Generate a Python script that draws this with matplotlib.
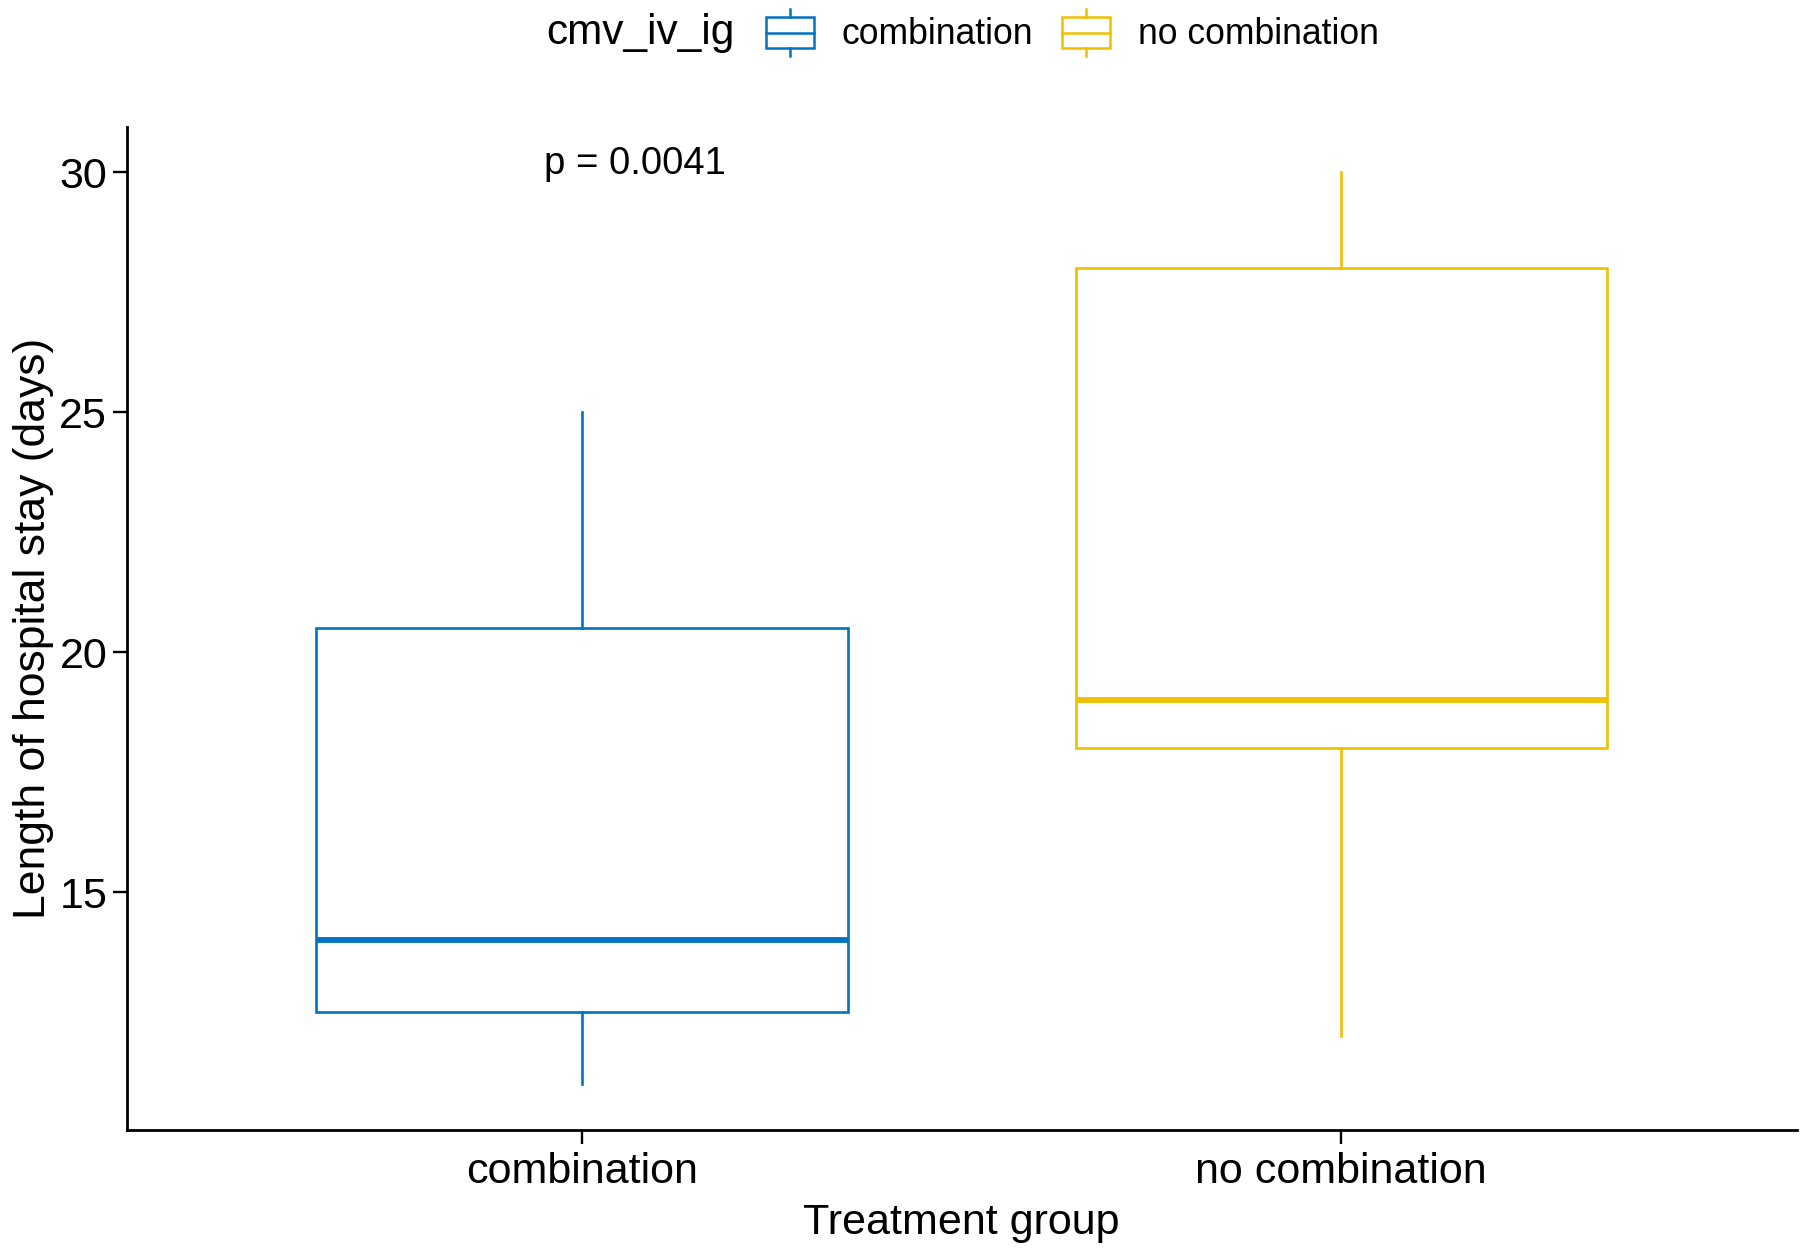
import matplotlib.pyplot as plt
from matplotlib.legend_handler import HandlerBase
from matplotlib.patches import Rectangle
from matplotlib.lines import Line2D

plt.rcParams['font.family'] = ['Liberation Sans', 'DejaVu Sans']

groups = ['combination', 'no combination']
colors = ['#0073C2', '#EFC000']
whislo = [11.0, 12.0]
q1 = [12.5, 18.0]
med = [14.0, 19.0]
q3 = [20.5, 28.0]
whishi = [25.0, 30.0]
p_label = 'p = 0.0041'


class BoxKey(HandlerBase):
    def create_artists(self, legend, orig_handle, xdescent, ydescent,
                       width, height, fontsize, trans):
        c = orig_handle.get_color()
        x0, y0 = -xdescent, -ydescent
        cx = x0 + width / 2
        rect = Rectangle((x0, y0 + height * 0.12), width, height * 0.76,
                         facecolor='white', edgecolor=c, lw=1.8, transform=trans)
        mid = Line2D([x0, x0 + width], [y0 + height * 0.5] * 2,
                     color=c, lw=1.8, transform=trans)
        w1 = Line2D([cx, cx], [y0 - height * 0.08, y0 + height * 0.12],
                    color=c, lw=1.8, transform=trans)
        w2 = Line2D([cx, cx], [y0 + height * 0.88, y0 + height * 1.08],
                    color=c, lw=1.8, transform=trans)
        return [rect, mid, w1, w2]


fig = plt.figure(figsize=(18.04, 12.52), dpi=100)
ax = fig.add_axes([0.0702, 0.0976, 0.9258, 0.8013])

stats = []
for i in range(len(groups)):
    stats.append(dict(label=groups[i], whislo=whislo[i], q1=q1[i], med=med[i],
                      q3=q3[i], whishi=whishi[i], fliers=[]))

for i, s in enumerate(stats):
    c = colors[i]
    ax.bxp([s], positions=[i + 1], widths=0.7, showcaps=False, patch_artist=True,
           boxprops=dict(facecolor='white', edgecolor=c, linewidth=1.9),
           whiskerprops=dict(color=c, linewidth=1.9),
           medianprops=dict(color=c, linewidth=4.2, solid_capstyle='butt'),
           manage_ticks=False)

ax.set_xlim(0.4, 2.6)
ax.set_ylim(10.05, 30.95)
ax.set_xticks([1, 2])
ax.set_xticklabels(groups)
ax.set_yticks([15, 20, 25, 30])
ax.tick_params(axis='both', labelsize=31, length=10, width=1.7, colors='black')
ax.tick_params(axis='x', pad=6)
ax.tick_params(axis='y', pad=4)
for side in ['top', 'right']:
    ax.spines[side].set_visible(False)
for side in ['left', 'bottom']:
    ax.spines[side].set_linewidth(2)

ax.set_xlabel('Treatment group', fontsize=31, labelpad=8)
ax.set_ylabel('Length of hospital stay (days)', fontsize=32, labelpad=4)

ax.text(0.95, 30.17, p_label, fontsize=27.5, ha='left', va='center')

handles = [Line2D([], [], color=c) for c in colors]
fig.text(0.303, 0.974, 'cmv_iv_ig', fontsize=30.5, ha='left', va='center')
fig.legend(handles, groups, handler_map={Line2D: BoxKey()},
           loc='center left', bbox_to_anchor=(766 / 1804, 0.974), ncol=2,
           frameon=False, fontsize=25.6, borderpad=0, borderaxespad=0,
           handlelength=1.35, handleheight=1.4, handletextpad=0.78,
           columnspacing=0.82)

fig.savefig('out.png', dpi=100)
